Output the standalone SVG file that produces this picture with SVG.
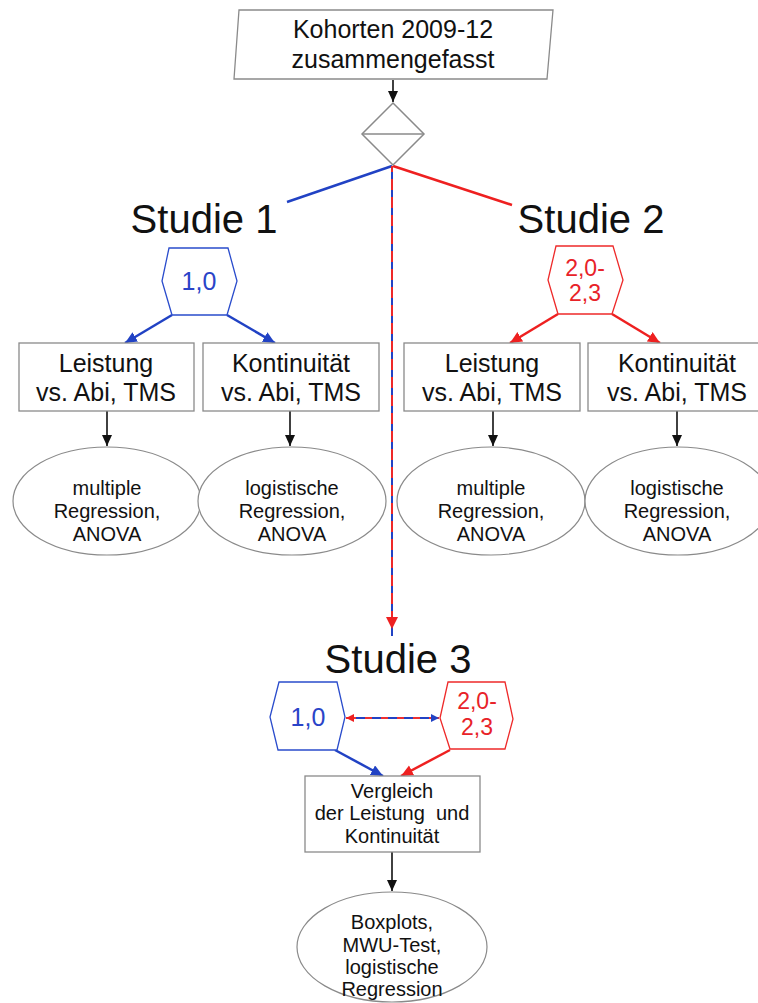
<svg xmlns="http://www.w3.org/2000/svg" width="758" height="1003" viewBox="0 0 758 1003">
<style>
.box{fill:#fff;stroke:#8a8a8a;stroke-width:1.3}
.ell{fill:#fff;stroke:#8a8a8a;stroke-width:1.2}
.t{font-family:"Liberation Sans",Arial,sans-serif;fill:#111;text-anchor:middle}
.big{font-size:40px}
.mid{font-size:25px}
.hx{font-size:23px}
.sm{font-size:20px}
.hexb{fill:#fff;stroke:#2a4ccc;stroke-width:1.3}
.hexr{fill:#fff;stroke:#ee2a2a;stroke-width:1.3}
.tb{fill:#2a44c8}
.tr{fill:#e82228}
.cb{stroke:#2142c4;stroke-width:2.5;fill:none}
.cr{stroke:#ee2020;stroke-width:2.5;fill:none}
.ck{stroke:#111;stroke-width:1.6;fill:none}
</style>
<defs>
<marker id="ak" markerUnits="userSpaceOnUse" markerWidth="12" markerHeight="12" refX="11" refY="5" orient="auto"><path d="M0,0 L11,5 L0,10 z" fill="#111"/></marker>
<marker id="ab" markerUnits="userSpaceOnUse" markerWidth="14" markerHeight="14" refX="12" refY="5.5" orient="auto"><path d="M0,0 L12,5.5 L0,11 z" fill="#2142c4"/></marker>
<marker id="ar" markerUnits="userSpaceOnUse" markerWidth="14" markerHeight="14" refX="12" refY="5.5" orient="auto"><path d="M0,0 L12,5.5 L0,11 z" fill="#ee2020"/></marker>
</defs>
<rect width="758" height="1003" fill="#fff"/>

<g id="connectors">
<line class="ck" x1="393" y1="80" x2="393" y2="102" marker-end="url(#ak)"/>
<line class="cb" x1="392" y1="166" x2="287" y2="202"/>
<line class="cr" x1="393" y1="166" x2="512" y2="205"/>
<line x1="392" y1="166" x2="392" y2="636" stroke="#ee2828" stroke-width="2"/>
<line x1="392" y1="172" x2="392" y2="636" stroke="#2142c4" stroke-width="2" stroke-dasharray="7 11"/>
<path d="M386,617 L398,617 L392,629 z" fill="#ee2020"/>
<line x1="392" y1="629" x2="392" y2="636" stroke="#2142c4" stroke-width="2"/>
<line class="cb" x1="172" y1="315" x2="125" y2="343" marker-end="url(#ab)"/>
<line class="cb" x1="227" y1="315" x2="275" y2="343" marker-end="url(#ab)"/>
<line class="ck" x1="107" y1="411" x2="107" y2="446" marker-end="url(#ak)"/>
<line class="ck" x1="290" y1="411" x2="290" y2="446" marker-end="url(#ak)"/>
<line class="cr" x1="558" y1="314" x2="510" y2="343" marker-end="url(#ar)"/>
<line class="cr" x1="612" y1="314" x2="660" y2="343" marker-end="url(#ar)"/>
<line class="ck" x1="493" y1="411" x2="493" y2="446" marker-end="url(#ak)"/>
<line class="ck" x1="677" y1="411" x2="677" y2="446" marker-end="url(#ak)"/>
<line x1="346" y1="718" x2="439" y2="718" stroke="#ee3030" stroke-width="2"/>
<line x1="356" y1="718" x2="432" y2="718" stroke="#2142c4" stroke-width="2" stroke-dasharray="9 7"/>
<path d="M346,718 L354,714 L354,722 z" fill="#ee2020"/>
<path d="M439,718 L431,714 L431,722 z" fill="#2142c4"/>
<line class="cb" x1="335" y1="750" x2="383" y2="776" marker-end="url(#ab)"/>
<line class="cr" x1="450" y1="750" x2="401" y2="776" marker-end="url(#ar)"/>
<line class="ck" x1="392" y1="852" x2="392" y2="891" marker-end="url(#ak)"/>
</g>

<g id="kohorten">
<path class="box" d="M239,10 L553,10 L547,79 L234,79 z"/>
<text class="t mid" x="393" y="38">Kohorten 2009-12</text>
<text class="t mid" x="393" y="68">zusammengefasst</text>
</g>

<g id="merge">
<path d="M393,103 L424,134 L393,165 L362,134 z" fill="#fff" stroke="#8a8a8a" stroke-width="1.5"/>
<line x1="362" y1="134" x2="424" y2="134" stroke="#8a8a8a" stroke-width="1.5"/>
</g>

<g id="studie1">
<text class="t big" x="204" y="233">Studie 1</text>
</g>
<g id="studie2">
<text class="t big" x="591" y="233">Studie 2</text>
</g>

<g id="hex1">
<path class="hexb" d="M169,248 L228,248 L237,281 L227,315 L172,315 L162,281 z"/>
<text class="t mid tb" x="199" y="290">1,0</text>
</g>
<g id="hex2">
<path class="hexr" d="M556,246 L613,246 L623,280 L612,314 L558,314 L548,280 z"/>
<text class="t hx tr" x="585" y="276">2,0-</text>
<text class="t hx tr" x="585" y="301">2,3</text>
</g>

<g id="leistung1">
<rect class="box" x="19" y="343" width="175" height="68"/>
<text class="t mid" x="106" y="372">Leistung</text>
<text class="t mid" x="106" y="401">vs. Abi, TMS</text>
</g>
<g id="kontinuitaet1">
<rect class="box" x="203" y="343" width="176" height="68"/>
<text class="t mid" x="291" y="372">Kontinuität</text>
<text class="t mid" x="291" y="401">vs. Abi, TMS</text>
</g>
<g id="leistung2">
<rect class="box" x="404" y="343" width="176" height="68"/>
<text class="t mid" x="492" y="372">Leistung</text>
<text class="t mid" x="492" y="401">vs. Abi, TMS</text>
</g>
<g id="kontinuitaet2">
<rect class="box" x="588" y="343" width="180" height="68"/>
<text class="t mid" x="677" y="372">Kontinuität</text>
<text class="t mid" x="677" y="401">vs. Abi, TMS</text>
</g>

<g id="methode1">
<ellipse class="ell" cx="107" cy="501" rx="94" ry="54"/>
<text class="t sm" x="107" y="495">multiple</text>
<text class="t sm" x="107" y="518">Regression,</text>
<text class="t sm" x="107" y="541">ANOVA</text>
</g>
<g id="methode2">
<ellipse class="ell" cx="292" cy="501" rx="94" ry="54"/>
<text class="t sm" x="292" y="495">logistische</text>
<text class="t sm" x="292" y="518">Regression,</text>
<text class="t sm" x="292" y="541">ANOVA</text>
</g>
<g id="methode3">
<ellipse class="ell" cx="491" cy="501" rx="94" ry="54"/>
<text class="t sm" x="491" y="495">multiple</text>
<text class="t sm" x="491" y="518">Regression,</text>
<text class="t sm" x="491" y="541">ANOVA</text>
</g>
<g id="methode4">
<ellipse class="ell" cx="678" cy="501" rx="93" ry="54"/>
<text class="t sm" x="677" y="495">logistische</text>
<text class="t sm" x="677" y="518">Regression,</text>
<text class="t sm" x="677" y="541">ANOVA</text>
</g>

<g id="studie3">
<text class="t big" x="398" y="673">Studie 3</text>
</g>
<g id="hex3">
<path class="hexb" d="M279,682 L337,682 L345,717 L337,750 L278,750 L270,717 z"/>
<text class="t mid tb" x="308" y="726">1,0</text>
</g>
<g id="hex4">
<path class="hexr" d="M448,682 L505,682 L513,719 L505,749 L450,749 L440,718 z"/>
<text class="t hx tr" x="477" y="709">2,0-</text>
<text class="t hx tr" x="477" y="735">2,3</text>
</g>

<g id="vergleich">
<rect class="box" x="305" y="776" width="175" height="76"/>
<text class="t sm" x="392" y="798">Vergleich</text>
<text class="t sm" x="392" y="820" style="white-space:pre">der Leistung  und</text>
<text class="t sm" x="392" y="843">Kontinuität</text>
</g>
<g id="auswertung">
<ellipse class="ell" cx="392" cy="947" rx="95" ry="55"/>
<text class="t sm" x="392" y="929">Boxplots,</text>
<text class="t sm" x="392" y="952">MWU-Test,</text>
<text class="t sm" x="392" y="974">logistische</text>
<text class="t sm" x="392" y="996">Regression</text>
</g>
</svg>
